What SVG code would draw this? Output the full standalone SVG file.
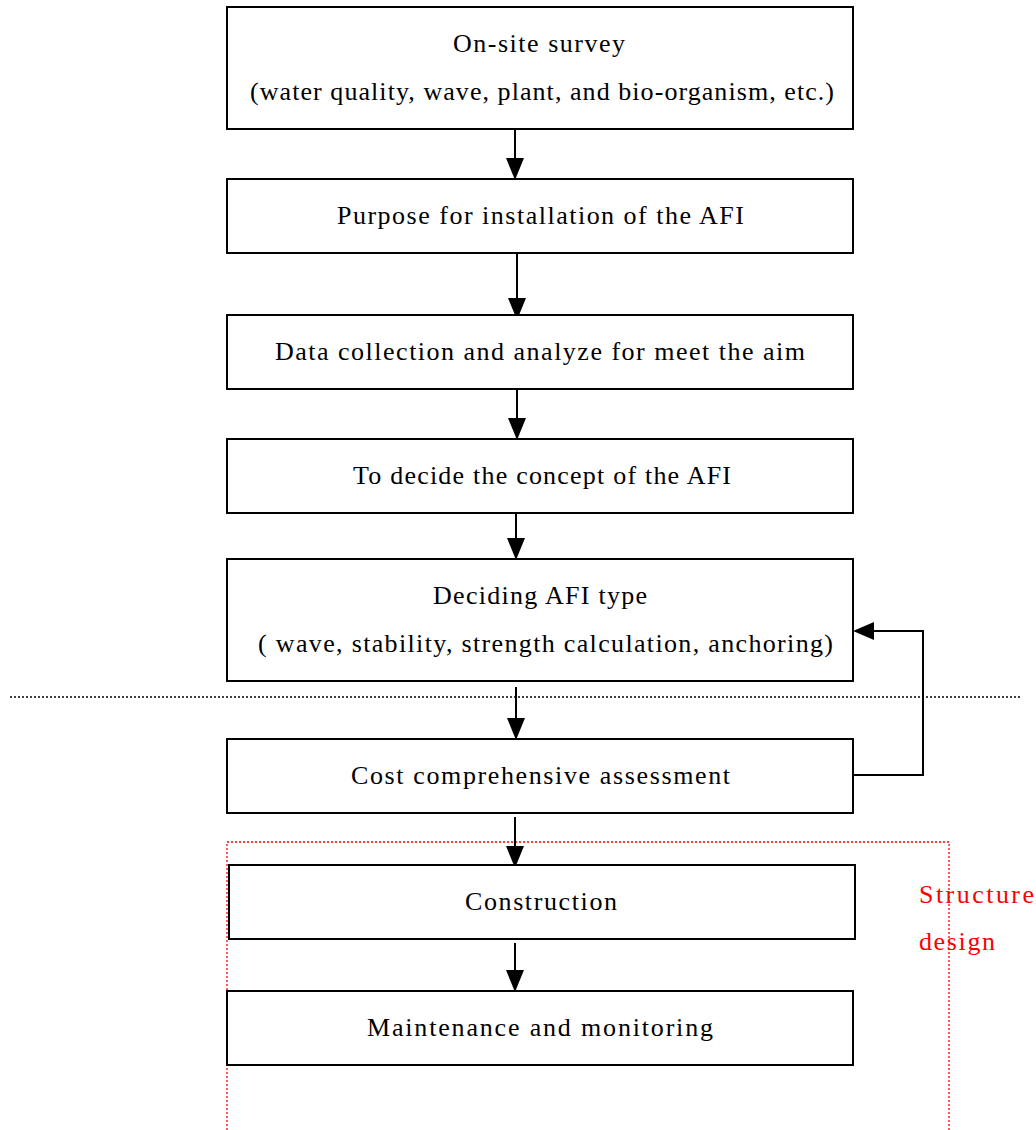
<svg xmlns="http://www.w3.org/2000/svg" width="1036" height="1130" viewBox="0 0 1036 1130">
<style>
.box{fill:#fff;stroke:#000;stroke-width:2}
.t{font-family:"Liberation Serif","DejaVu Serif",serif;font-size:26px;fill:#000}
.c{stroke:#000;stroke-width:2;fill:none}
.r{font-family:"Liberation Serif","DejaVu Serif",serif;font-size:26px;fill:#ff0000}
</style>
<rect width="1036" height="1130" fill="#fff"/>
<g id="frame">
<path d="M227,1130 V842 H949 V1130" fill="none" stroke="#ff0000" stroke-width="1.3" stroke-dasharray="2,2"/>
<line x1="10" y1="697" x2="1020" y2="697" stroke="#000" stroke-width="1.3" stroke-dasharray="2,2"/>
<text class="r" x="919" y="903" textLength="115">Structure</text>
<text class="r" x="919" y="950" textLength="76">design</text>
</g>
<g id="connectors">
<line class="c" x1="515" y1="129" x2="515" y2="160"/><path d="M506,158 L524,158 L515,180 Z"/>
<line class="c" x1="517" y1="253" x2="517" y2="300"/><path d="M508,298 L526,298 L517,320 Z"/>
<line class="c" x1="517" y1="389" x2="517" y2="420"/><path d="M508,418 L526,418 L517,440 Z"/>
<line class="c" x1="516" y1="513" x2="516" y2="540"/><path d="M507,538 L525,538 L516,560 Z"/>
<line class="c" x1="516" y1="687" x2="516" y2="720"/><path d="M507,718 L525,718 L516,740 Z"/>
<line class="c" x1="515" y1="817" x2="515" y2="848"/><path d="M506,846 L524,846 L515,868 Z"/>
<line class="c" x1="515" y1="943" x2="515" y2="972"/><path d="M506,970 L524,970 L515,992 Z"/>
<path class="c" d="M851,775 H923 V631 H872"/><path d="M874,622 L874,640 L853,631 Z"/>
</g>
<g id="n1"><rect class="box" x="227" y="7" width="626" height="122"/>
<text class="t" x="453" y="52" textLength="172">On-site survey</text>
<text class="t" x="250" y="100" textLength="584">(water quality, wave, plant, and bio-organism, etc.)</text></g>
<g id="n2"><rect class="box" x="227" y="179" width="626" height="74"/>
<text class="t" x="337" y="224" textLength="407">Purpose for installation of the AFI</text></g>
<g id="n3"><rect class="box" x="227" y="315" width="626" height="74"/>
<text class="t" x="275" y="360" textLength="530">Data collection and analyze for meet the aim</text></g>
<g id="n4"><rect class="box" x="227" y="439" width="626" height="74"/>
<text class="t" x="353" y="484" textLength="378">To decide the concept of the AFI</text></g>
<g id="n5"><rect class="box" x="227" y="559" width="626" height="122"/>
<text class="t" x="433" y="604" textLength="214">Deciding AFI type</text>
<text class="t" x="258" y="652" textLength="575">( wave, stability, strength calculation, anchoring)</text></g>
<g id="n6"><rect class="box" x="227" y="739" width="626" height="74"/>
<text class="t" x="351" y="784" textLength="379">Cost comprehensive assessment</text></g>
<g id="n7"><rect class="box" x="229" y="865" width="626" height="74"/>
<text class="t" x="465" y="910" textLength="152">Construction</text></g>
<g id="n8"><rect class="box" x="227" y="991" width="626" height="74"/>
<text class="t" x="367" y="1036" textLength="346">Maintenance and monitoring</text></g>
</svg>
